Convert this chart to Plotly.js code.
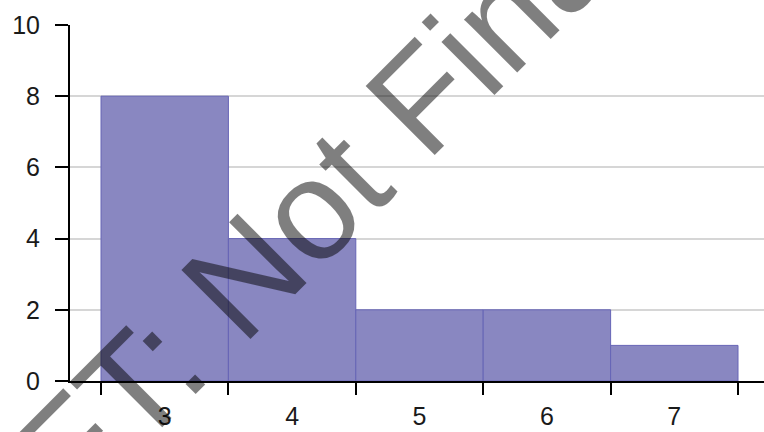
<!DOCTYPE html>
<html>
<head>
<meta charset="utf-8">
<script src="https://cdn.plot.ly/plotly-3.0.1.min.js"></script>
<style>html,body{margin:0;padding:0;background:#fff;}#chart{width:764px;height:432px;}</style>
</head>
<body>
<div id="chart"></div>
<script>
// Data
const binCenters = [3, 4, 5, 6, 7];
const frequencies = [8, 4, 2, 2, 1];
const binEdges = [2.5, 3.5, 4.5, 5.5, 6.5, 7.5];
const yTicks = [0, 2, 4, 6, 8, 10];
const watermarkText = "DRAFT: Not Final";

const W = 764, H = 432;
const mL = 70, mR = 0, mT = 25, mB = 51;
const xRange = [2.2567, 7.704];

const trace = {
  type: 'bar',
  x: binCenters,
  y: frequencies,
  width: 1,
  marker: { color: '#8987c1', line: { color: '#6664b6', width: 1 } },
  hoverinfo: 'skip'
};

const tickFont = { family: 'Liberation Sans, Arial, sans-serif', size: 25, color: '#1a1a1a' };

const layout = {
  width: W, height: H,
  margin: { l: mL, r: mR, t: mT, b: mB, pad: 0 },
  paper_bgcolor: '#ffffff',
  plot_bgcolor: '#ffffff',
  showlegend: false,
  bargap: 0,
  xaxis: {
    range: xRange,
    tickmode: 'array',
    tickvals: binEdges,
    ticktext: binEdges.map(() => ''),
    ticks: 'outside', ticklen: 12, tickwidth: 2, tickcolor: '#000',
    showline: true, linecolor: '#000', linewidth: 2,
    showgrid: false, zeroline: false, fixedrange: true
  },
  xaxis2: {
    overlaying: 'x', anchor: 'y', side: 'bottom',
    range: xRange,
    tickmode: 'array',
    tickvals: binCenters,
    ticktext: binCenters.map(String),
    ticks: '', showline: false, showgrid: false, zeroline: false,
    tickfont: tickFont, ticklabelstandoff: 18, fixedrange: true
  },
  yaxis: {
    range: [0, 10],
    tickmode: 'array',
    tickvals: yTicks,
    ticktext: yTicks.map(String),
    ticks: 'outside', ticklen: 13, tickwidth: 2, tickcolor: '#000',
    showline: true, linecolor: '#000', linewidth: 2,
    showgrid: true, gridcolor: '#d6d6d6', gridwidth: 2,
    zeroline: false, tickfont: tickFont, ticklabelstandoff: 10, fixedrange: true
  },
  annotations: [{
    text: watermarkText,
    xref: 'paper', yref: 'paper',
    x: (218 - mL) / (W - mL - mR),
    y: (H - mB - 301) / (H - mT - mB),
    xanchor: 'center', yanchor: 'middle',
    showarrow: false,
    textangle: -45,
    font: { family: 'Liberation Sans, Arial, sans-serif', size: 142, color: 'rgba(0,0,0,0.5)' }
  }]
};

const trace2 = { type: 'scatter', x: [binCenters[0]], y: [0], xaxis: 'x2', yaxis: 'y', mode: 'markers', marker: { opacity: 0 }, hoverinfo: 'skip' };

Plotly.newPlot('chart', [trace, trace2], layout, { staticPlot: true, displayModeBar: false });
</script>
</body>
</html>
